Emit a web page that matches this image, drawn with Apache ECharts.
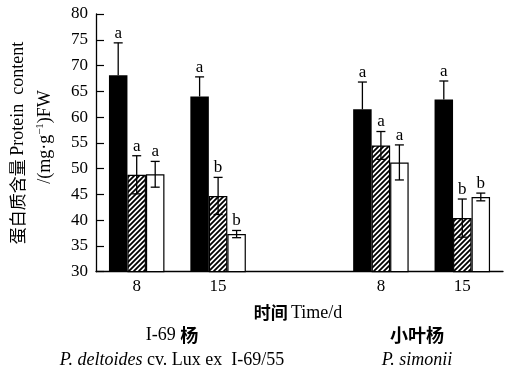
<!DOCTYPE html>
<html><head><meta charset="utf-8">
<script src="https://cdn.jsdelivr.net/npm/echarts@6/dist/echarts.min.js"></script>
<style>html,body{margin:0;padding:0;background:#fff}#c{width:505px;height:376px}</style>
</head><body><div id="c"></div>
<script>
const categories = ['8', '15', '', '8', '15'];
const blackVals   = [68.1, 64.0, null, 61.5, 63.4];
const blackErr    = [6.3, 3.8, null, 5.3, 3.6];
const blackSig    = ['a', 'a', '', 'a', 'a'];
const hatchVals   = [48.8, 44.7, null, 54.5, 40.4];
const hatchErr    = [3.7, 3.6, null, 2.7, 3.7];
const hatchSig    = ['a', 'b', '', 'a', 'b'];
const whiteVals   = [48.9, 37.3, null, 51.2, 44.5];
const whiteErr    = [2.5, 0.7, null, 3.4, 0.75];
const whiteSig    = ['a', 'b', '', 'a', 'b'];
const yTicks = { min: 30, max: 80, interval: 5 };

const SERIF = '"Liberation Serif","DejaVu Serif",serif';
const CJK = '"Noto Sans CJK SC",sans-serif';
const BW = 18.5;

function hatchCanvas() {
  const s = 5;
  const c = document.createElement('canvas');
  c.width = s; c.height = s;
  const g = c.getContext('2d');
  g.fillStyle = '#fff'; g.fillRect(0, 0, s, s);
  g.strokeStyle = '#000'; g.lineWidth = 1.8;
  g.beginPath();
  g.moveTo(-1, s + 1); g.lineTo(s + 1, -1);
  g.moveTo(-1, 1); g.lineTo(1, -1);
  g.moveTo(s - 1, s + 1); g.lineTo(s + 1, s - 1);
  g.stroke();
  return c;
}

function errSeries(vals, errs, sigs, offset, showLow) {
  const data = vals.map((v, i) => v == null ? null : [i, v, errs[i], sigs[i]]);
  return {
    type: 'custom', z: 10,
    data: data.filter(d => d),
    renderItem: function (params, api) {
      const i = api.value(0), v = api.value(1), e = api.value(2);
      const sig = data.find(d => d && d[0] === i)[3];
      const top = api.coord([i, v + e]);
      const low = api.coord([i, showLow ? v - e : v]);
      const x = top[0] + offset * BW;
      const cap = 4.5;
      const children = [
        { type: 'line', shape: { x1: x, y1: top[1], x2: x, y2: low[1] }, style: { stroke: '#000', lineWidth: 1.3 } },
        { type: 'line', shape: { x1: x - cap, y1: top[1], x2: x + cap, y2: top[1] }, style: { stroke: '#000', lineWidth: 1.3 } },
        { type: 'text', style: { text: sig, x: x, y: top[1] - 1, align: 'center', verticalAlign: 'bottom', font: '17px ' + SERIF, fill: '#000' } }
      ];
      if (showLow) children.push({ type: 'line', shape: { x1: x - cap, y1: low[1], x2: x + cap, y2: low[1] }, style: { stroke: '#000', lineWidth: 1.3 } });
      return { type: 'group', children: children };
    }
  };
}

const chart = echarts.init(document.getElementById('c'), null, { renderer: 'canvas' });
chart.setOption({
  animation: false,
  backgroundColor: '#fff',
  grid: { left: 96, right: 2, top: 14, bottom: 104.3, containLabel: false },
  xAxis: {
    type: 'category', data: categories, boundaryGap: true,
    axisLine: { lineStyle: { color: '#000', width: 1.3 } },
    axisTick: { show: false },
    axisLabel: { color: '#000', fontFamily: SERIF, fontSize: 17, margin: 6, interval: 0 },
    splitLine: { show: false }
  },
  yAxis: {
    type: 'value', min: yTicks.min, max: yTicks.max, interval: yTicks.interval,
    axisLine: { show: true, lineStyle: { color: '#000', width: 1.3 } },
    axisTick: { show: true, inside: true, length: 8, lineStyle: { color: '#000', width: 1.2 } },
    axisLabel: { color: '#000', fontFamily: SERIF, fontSize: 17, margin: 8 },
    splitLine: { show: false }
  },
  series: [
    { type: 'bar', data: blackVals, barWidth: BW, barGap: '0%', itemStyle: { color: '#000' } },
    { type: 'bar', data: hatchVals, barWidth: BW, barGap: '0%', itemStyle: { color: { image: hatchCanvas(), repeat: 'repeat' }, borderColor: '#000', borderWidth: 1.2 } },
    { type: 'bar', data: whiteVals, barWidth: BW, barGap: '0%', itemStyle: { color: '#fff', borderColor: '#000', borderWidth: 1.2 } },
    errSeries(blackVals, blackErr, blackSig, -1, false),
    errSeries(hatchVals, hatchErr, hatchSig, 0, true),
    errSeries(whiteVals, whiteErr, whiteSig, 1, true)
  ],
  graphic: [
    { type: 'text', x: 18, y: 143, rotation: Math.PI / 2, style: {
      text: '{c|蛋白质含量} {l|Protein  content}', align: 'center', verticalAlign: 'middle',
      rich: { c: { fontFamily: CJK, fontSize: 17, fill: '#000' }, l: { fontFamily: SERIF, fontSize: 18, fill: '#000' } } } },
    { type: 'text', x: 45, y: 137, rotation: Math.PI / 2, style: {
      text: '{l|/(mg·g}{s|−1}{l|)FW}', align: 'center', verticalAlign: 'middle',
      rich: { l: { fontFamily: SERIF, fontSize: 18, fill: '#000', lineHeight: 20 }, s: { fontFamily: SERIF, fontSize: 11, fill: '#000', verticalAlign: 'top', lineHeight: 20 } } } },
    { type: 'text', x: 298, y: 313, style: {
      text: '{c|时间} {l|Time/d}', align: 'center', verticalAlign: 'middle',
      rich: { c: { fontFamily: CJK, fontSize: 17, fontWeight: 'bold', fill: '#000' }, l: { fontFamily: SERIF, fontSize: 18, fill: '#000' } } } },
    { type: 'text', x: 172, y: 335, style: {
      text: '{l|I-69 }{c|杨}', align: 'center', verticalAlign: 'middle',
      rich: { c: { fontFamily: CJK, fontSize: 18, fontWeight: 'bold', fill: '#000' }, l: { fontFamily: SERIF, fontSize: 18, fill: '#000' } } } },
    { type: 'text', x: 172, y: 360, style: {
      text: '{i|P. deltoides}{l| cv. Lux ex  I-69/55}', align: 'center', verticalAlign: 'middle',
      rich: { i: { fontFamily: SERIF, fontSize: 18, fontStyle: 'italic', fill: '#000' }, l: { fontFamily: SERIF, fontSize: 18, fill: '#000' } } } },
    { type: 'text', x: 417, y: 335, style: {
      text: '小叶杨', align: 'center', verticalAlign: 'middle', fontFamily: CJK, fontSize: 18, fontWeight: 'bold', fill: '#000' } },
    { type: 'text', x: 417, y: 360, style: {
      text: 'P. simonii', align: 'center', verticalAlign: 'middle', fontFamily: SERIF, fontSize: 18, fontStyle: 'italic', fill: '#000' } }
  ]
});
</script>
</body></html>
